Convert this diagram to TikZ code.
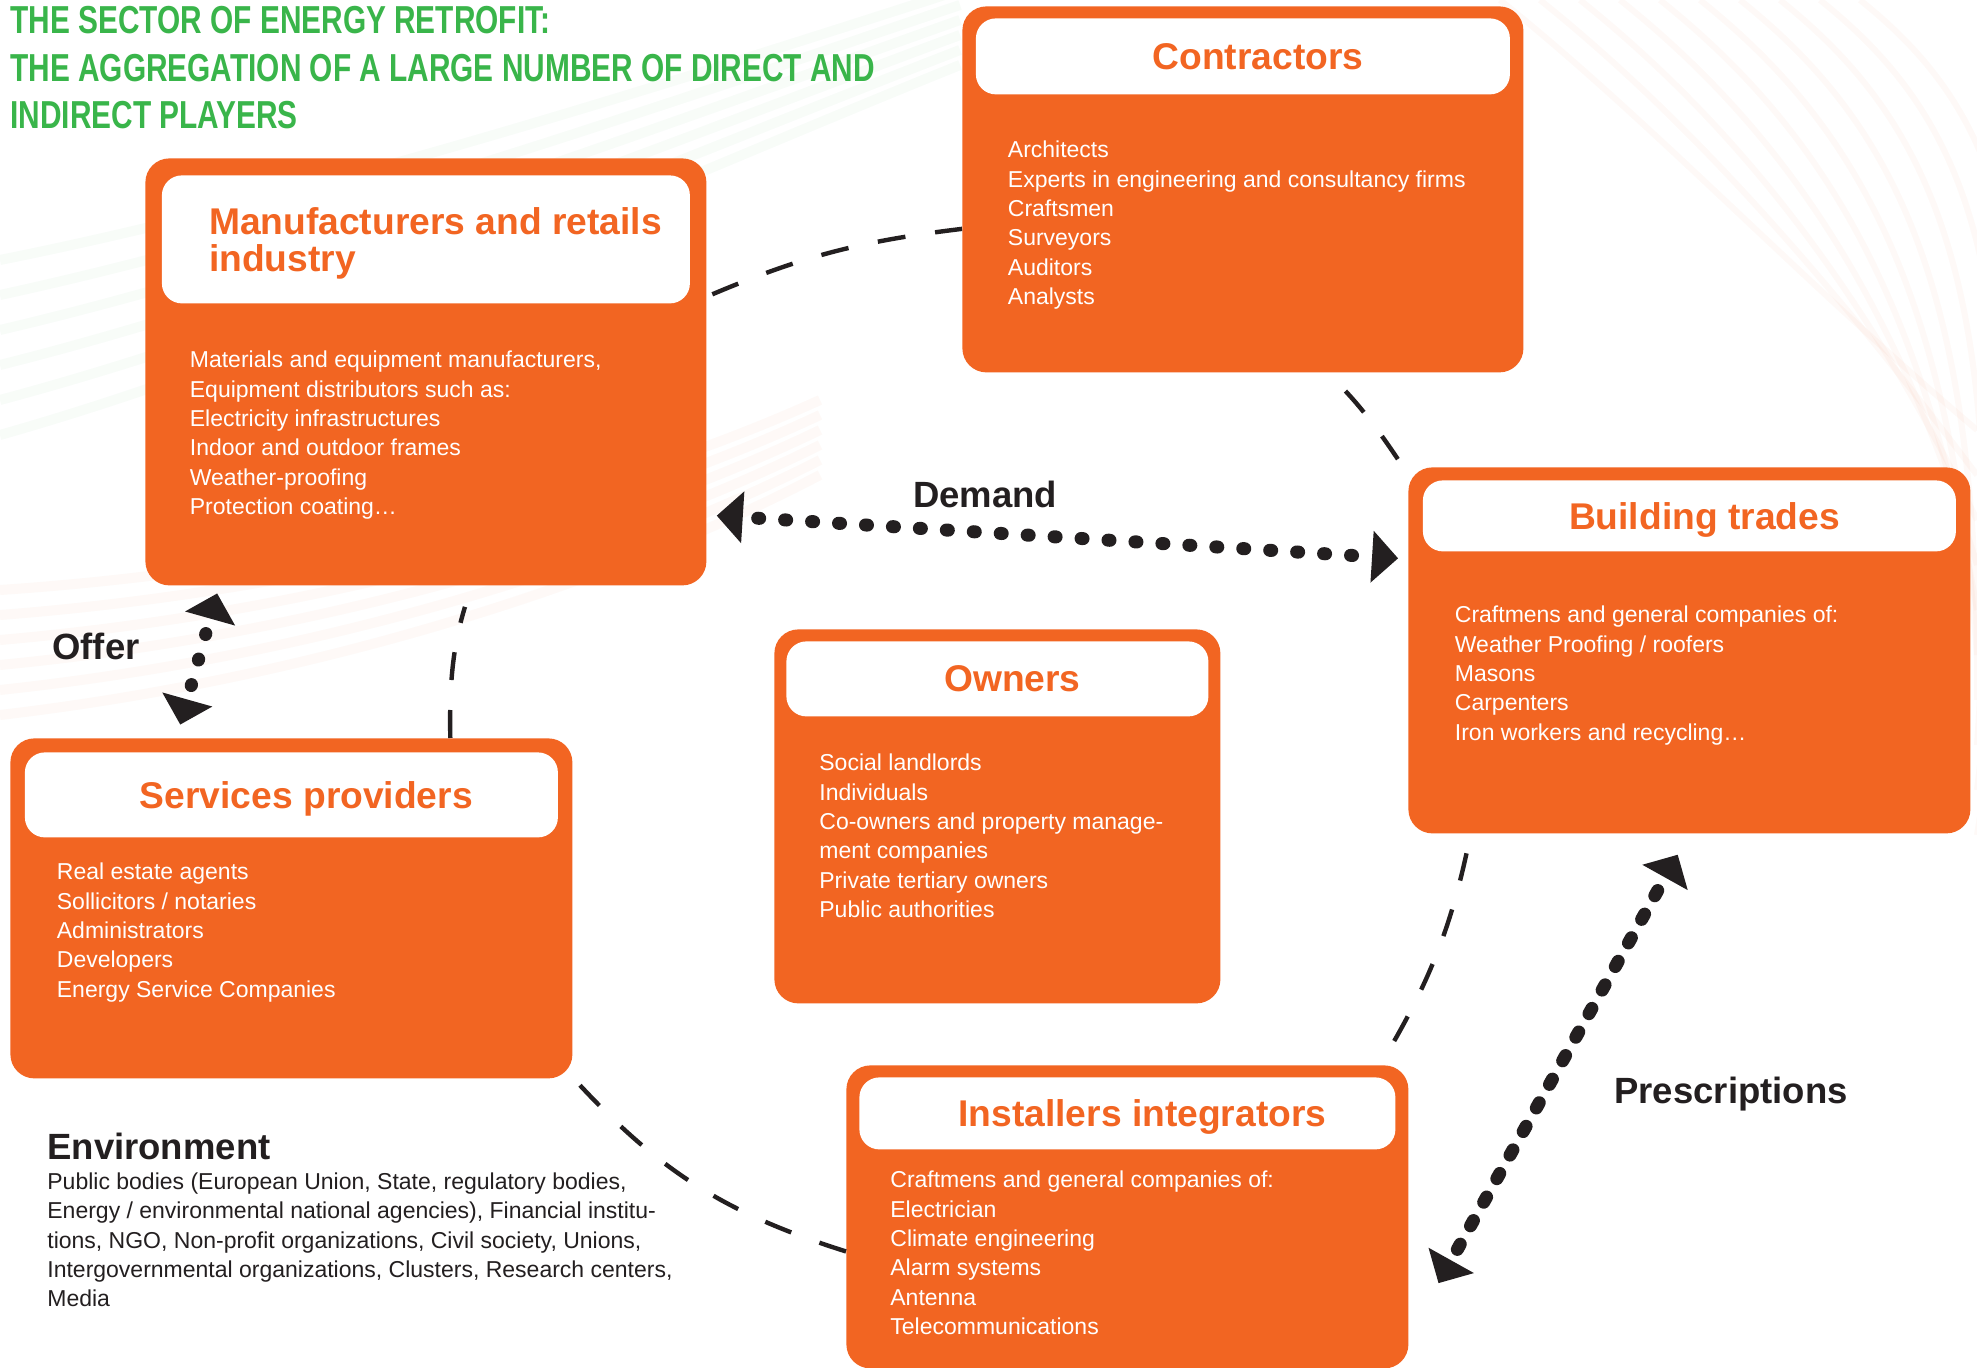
\documentclass[tikz,border=0pt]{standalone}
\usepackage{fontspec}
\setmainfont{Liberation Sans}
\newfontfamily\condensedfont[FakeStretch=0.765]{Liberation Sans}
\usepackage{xcolor}
\usepackage{tikz}
\usetikzlibrary{shapes,positioning,arrows.meta}
\definecolor{retrofit}{RGB}{242, 101, 34}
\definecolor{leafgreen}{RGB}{57, 181, 74}
\definecolor{inkblack}{RGB}{35, 31, 32}

\begin{document}
\begin{tikzpicture}[
    x=0.5pt, y=-0.5pt,
    player/.style={rectangle, rounded corners=12pt, fill=retrofit, anchor=north west, inner sep=0pt},
    playerhead/.style={rectangle, rounded corners=10pt, fill=white, text=retrofit, text depth=0pt, font=\fontsize{18.6pt}{18.5pt}\selectfont\bfseries, inner sep=0pt},
    members/.style={align=left, text=white, font=\fontsize{11.5pt}{14.65pt}\selectfont, inner sep=0pt},
    flowlabel/.style={anchor=base, text=inkblack, inner sep=0pt, font=\fontsize{18.25pt}{20pt}\selectfont\bfseries},
    ringline/.style={draw=inkblack, line width=2.2pt, dash pattern=on 14pt off 15pt},
    exchange/.style={<->, draw=inkblack, line width=6.5pt, line cap=round, dash pattern=on 1pt off 12.5pt, dash phase=6pt, >={Triangle[length=13pt, width=26pt, line width=0pt 0]}},
    haze/.style={opacity=0.035, line width=5pt}
]

\useasboundingbox[fill=white] (0,0) rectangle (1977,1368);

\foreach \k in {0,...,5}
    \draw[leafgreen, haze] (0,260+35*\k) .. controls (300,200+30*\k) and (650,90+20*\k) .. (960,-10+15*\k);
\foreach \k in {0,...,5}
    \draw[retrofit, haze] (0,590+25*\k) .. controls (300,570+22*\k) and (600,500+18*\k) .. (820,400+15*\k);
\foreach \k in {0,...,9}
    \draw[retrofit, haze, line width=3pt] (1500+40*\k,0) .. controls (1650+40*\k,120) and (1800+30*\k,280) .. (1977,430+45*\k);

\node[anchor=north west, align=left, inner sep=0pt, text=leafgreen, font=\condensedfont\bfseries\fontsize{19.5pt}{23.75pt}\selectfont] (title) at (10,6) {THE SECTOR OF ENERGY RETROFIT:\\THE AGGREGATION OF A LARGE NUMBER OF DIRECT AND\\INDIRECT PLAYERS};

\node[player, minimum width=280.5pt, minimum height=213.5pt] (manuf) at (145,158) {};
\node[player, minimum width=280.5pt, minimum height=183pt] (contr) at (962,6) {};
\node[player, minimum width=281pt, minimum height=183pt] (trades) at (1408,467) {};
\node[player, minimum width=223pt, minimum height=187pt] (owners) at (774,629) {};
\node[player, minimum width=281pt, minimum height=170pt] (services) at (10,738) {};
\node[player, minimum width=281pt, minimum height=151.5pt] (install) at (846,1065) {};

\node[playerhead, below=8.5pt of manuf.north, minimum width=264pt, minimum height=64pt, align=left] (manufhead) {\hspace*{9.5pt}Manufacturers and retails\\\hspace*{9.5pt}industry};
\node[playerhead, below=6pt of contr.north, minimum width=267pt, minimum height=38pt] (contrhead) {\hspace*{15pt}Contractors};
\node[playerhead, below=6.5pt of trades.north, minimum width=266.5pt, minimum height=35.5pt] (tradeshead) {\hspace*{15pt}Building trades};
\node[playerhead, below=6pt of owners.north, minimum width=211pt, minimum height=37.5pt] (ownershead) {\hspace*{15pt}Owners};
\node[playerhead, below=7pt of services.north, minimum width=266.5pt, minimum height=42.5pt] (serviceshead) {\hspace*{15pt}Services providers};
\node[playerhead, below=6pt of install.north, minimum width=268pt, minimum height=36pt] (installhead) {\hspace*{15pt}Installers integrators};

\node[members, below right=23.5pt and 14pt of manufhead.south west] (manuflist) {Materials and equipment manufacturers,\\Equipment distributors such as:\\Electricity infrastructures\\Indoor and outdoor frames\\Weather-proofing\\Protection coating…};
\node[members, below right=23pt and 16pt of contrhead.south west] (contrlist) {Architects\\Experts in engineering and consultancy firms\\Craftsmen\\Surveyors\\Auditors\\Analysts};
\node[members, below right=27pt and 16pt of tradeshead.south west] (tradeslist) {Craftmens and general companies of:\\Weather Proofing / roofers\\Masons\\Carpenters\\Iron workers and recycling…};
\node[members, below right=18.5pt and 16.5pt of ownershead.south west] (ownerslist) {Social landlords\\Individuals\\Co-owners and property manage-\\ment companies\\Private tertiary owners\\Public authorities};
\node[members, below right=12.5pt and 16pt of serviceshead.south west] (serviceslist) {Real estate agents\\Sollicitors / notaries\\Administrators\\Developers\\Energy Service Companies};
\node[members, below right=10.5pt and 15.5pt of installhead.south west] (installlist) {Craftmens and general companies of:\\Electrician\\Climate engineering\\Alarm systems\\Antenna\\Telecommunications};

\node[flowlabel, anchor=north west] (envhead) at (47,1133) {Environment};
\node[members, text=inkblack, below right=6pt and 0pt of envhead.south west] (envlist) {Public bodies (European Union, State, regulatory bodies,\\Energy / environmental national agencies), Financial institu-\\tions, NGO, Non-profit organizations, Civil society, Unions,\\Intergovernmental organizations, Clusters, Research centers,\\Media};

\node[flowlabel] (demand) at (985,508) {Demand};
\node[flowlabel] (offer) at (96,660) {Offer};
\node[flowlabel] (prescriptions) at (1731,1103) {Prescriptions};

\draw[ringline, shorten <=3pt] (manuf.15) to[bend left=8] (contr.188);
\draw[ringline, shorten <=12.5pt] (contr.-65) to[bend left=5] (trades.148);
\draw[ringline, shorten <=10pt, shorten >=7.5pt] (trades.220) to[bend left=9] (install.31);
\draw[ringline, shorten >=1pt] (install.187) to[bend left=15] (services.-31);
\draw[ringline, shorten >=11pt] (services.47) to[bend left=9] (manuf.-78);

\draw[exchange, shorten <=5pt, shorten >=5pt] (manuf.-27.4) -- (trades.162);
\draw[exchange, dash pattern=on 3pt off 10.5pt, shorten <=12pt, shorten >=30.5pt] (trades.south) -- (install.-23);
\draw[exchange, dash pattern=on 0.5pt off 12.75pt, shorten <=7pt, shorten >=4pt] (services.124.5) -- (manuf.226.8);

\end{tikzpicture}
\end{document}
